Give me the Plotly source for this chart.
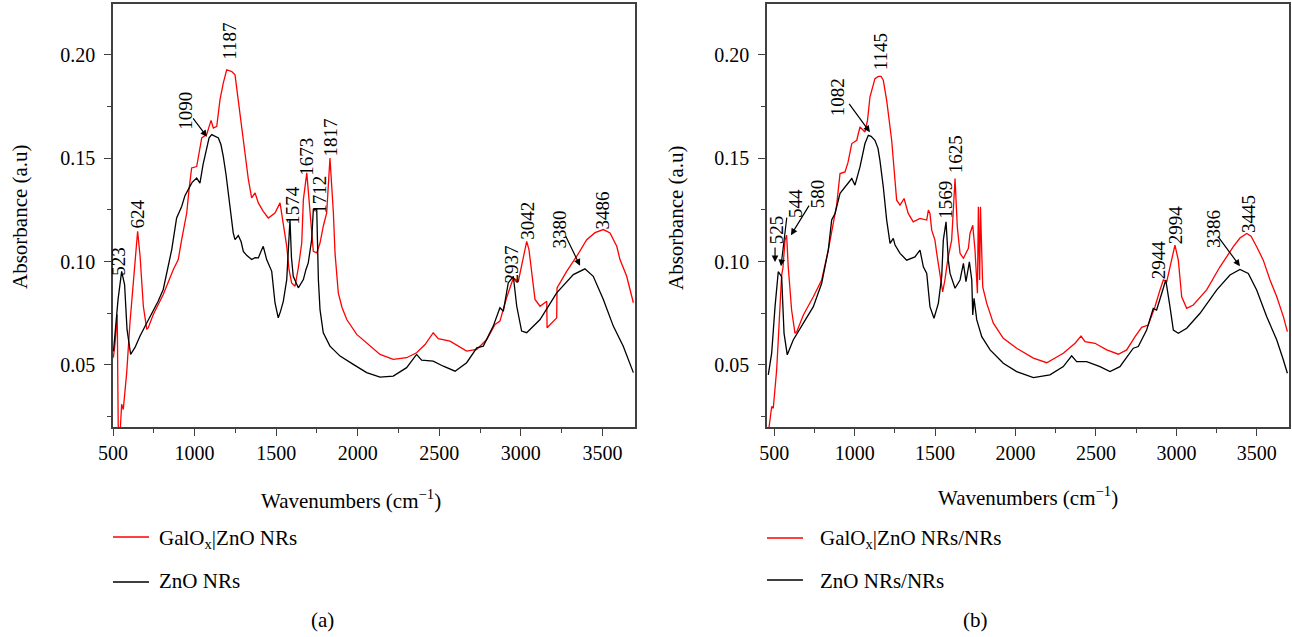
import plotly.graph_objects as go

# ---------------- Panel (a) ----------------
a_galox_x = [502, 512, 526, 532, 540, 553, 563, 584, 604, 624, 645, 651, 666, 686, 707, 716, 747, 808, 870, 900,
             921, 952, 966, 982, 1013, 1027, 1044, 1074, 1101, 1115, 1136, 1156, 1176, 1197, 1228, 1248, 1268, 1299,
             1330, 1350, 1371, 1391, 1421, 1452, 1493, 1524, 1544, 1565, 1579, 1595, 1616, 1636, 1657, 1667, 1688,
             1708, 1728, 1749, 1769, 1789, 1810, 1830, 1851, 1861, 1870, 1881, 1904, 1933, 1994, 2055, 2137, 2218,
             2300, 2361, 2413, 2463, 2494, 2566, 2668, 2730, 2791, 2842, 2872, 2913, 2954, 2985, 3015, 3036, 3050,
             3066, 3087, 3118, 3159, 3161, 3220, 3222, 3281, 3343, 3404, 3455, 3506, 3547, 3588, 3608, 3649, 3690]
a_galox_y = [0.0535, 0.0599, 0.0744, 0.0205, 0.012, 0.0310, 0.0285, 0.0463, 0.0704, 0.0897, 0.1106, 0.1147, 0.1026,
             0.0784, 0.0672, 0.0680, 0.0744, 0.0841, 0.0962, 0.1010, 0.1106, 0.1235, 0.1348, 0.1453, 0.1460, 0.1531,
             0.1598, 0.1614, 0.1683, 0.1646, 0.1654, 0.1783, 0.1863, 0.1928, 0.1919, 0.1903, 0.1783, 0.1590, 0.1396,
             0.1308, 0.1332, 0.1284, 0.1243, 0.1211, 0.1235, 0.1284, 0.1171, 0.1074, 0.0962, 0.0897, 0.0881, 0.0969,
             0.1090, 0.1300, 0.1429, 0.1219, 0.1050, 0.1042, 0.1090, 0.1171, 0.1235, 0.1501, 0.1235, 0.1042, 0.0937,
             0.0849, 0.0778, 0.0720, 0.0648, 0.0607, 0.0551, 0.0527, 0.0535, 0.0559, 0.0599, 0.0656, 0.0627, 0.0615,
             0.0567, 0.0575, 0.0623, 0.0696, 0.0712, 0.0825, 0.0921, 0.0905, 0.1010, 0.1098, 0.1058, 0.0946, 0.0817,
             0.0784, 0.0808, 0.0680, 0.0728, 0.0873, 0.0953, 0.1026, 0.1106, 0.1140, 0.1155, 0.1139, 0.1074, 0.1010,
             0.0929, 0.0801]

a_zno_x = [503, 531, 553, 571, 586, 608, 635, 665, 702, 747, 776, 808, 837, 860, 890, 921, 941, 962, 984, 1013,
           1033, 1052, 1074, 1089, 1105, 1126, 1146, 1162, 1176, 1193, 1207, 1223, 1237, 1248, 1268, 1285, 1299, 1321,
           1350, 1371, 1391, 1407, 1421, 1442, 1456, 1473, 1493, 1513, 1527, 1544, 1565, 1576, 1585, 1594, 1605, 1636,
           1667, 1683, 1697, 1718, 1728, 1749, 1759, 1769, 1789, 1830, 1892, 1973, 2055, 2137, 2218, 2300, 2361, 2392,
           2463, 2525, 2597, 2668, 2730, 2770, 2831, 2872, 2893, 2923, 2954, 2975, 3005, 3036, 3118, 3220, 3322, 3393,
           3444, 3506, 3567, 3628, 3690]
a_zno_y = [0.0566, 0.0817, 0.0953, 0.0889, 0.0672, 0.0551, 0.0585, 0.0639, 0.0696, 0.0760, 0.0807, 0.0865, 0.0971,
           0.1058, 0.1211, 0.1267, 0.1319, 0.1348, 0.1382, 0.1404, 0.1380, 0.1469, 0.1557, 0.1599, 0.1614, 0.1604,
           0.1598, 0.1565, 0.1509, 0.1420, 0.1332, 0.1227, 0.1139, 0.1106, 0.1126, 0.1097, 0.1049, 0.1029, 0.1010,
           0.1019, 0.1018, 0.1049, 0.1074, 0.1010, 0.0981, 0.0953, 0.0801, 0.0728, 0.0759, 0.0808, 0.0913, 0.1058,
           0.1203, 0.1020, 0.0929, 0.0873, 0.0913, 0.0962, 0.0994, 0.1106, 0.1251, 0.1251, 0.0913, 0.0768, 0.0656,
           0.0591, 0.0543, 0.0503, 0.0463, 0.0441, 0.0446, 0.0487, 0.0551, 0.0523, 0.0519, 0.0494, 0.0470, 0.0511,
           0.0583, 0.0591, 0.0688, 0.0777, 0.0760, 0.0897, 0.0929, 0.0784, 0.0664, 0.0656, 0.0720, 0.0849, 0.0937,
           0.0965, 0.0929, 0.0817, 0.0688, 0.0591, 0.0463]

a_labels = ["523", "624", "1090", "1187", "1574", "1673", "1712", "1817", "2937", "3042", "3380", "3486"]
a_label_x = [537, 653, 948, 1217, 1603, 1689, 1769, 1836, 2940, 3044, 3240, 3504]
a_label_y = [0.100, 0.1232, 0.173, 0.2068, 0.1275, 0.1507, 0.1324, 0.160, 0.0986, 0.1198, 0.1155, 0.1247]
# arrows: head x, head y, tail x, tail y
a_arrows = [(1076, 0.1604, 984, 0.170), (3363, 0.098, 3271, 0.113)]

# ---------------- Panel (b) ----------------
b_galox_x = [458, 469, 484, 494, 515, 525, 536, 546, 554, 567, 577, 587, 608, 629, 640, 681, 743, 795, 836, 865,
             888, 909, 940, 959, 982, 1013, 1033, 1064, 1080, 1095, 1126, 1147, 1164, 1178, 1199, 1230, 1261, 1282,
             1307, 1333, 1364, 1406, 1448, 1458, 1468, 1479, 1499, 1510, 1531, 1547, 1561, 1580, 1603, 1624, 1638,
             1655, 1676, 1707, 1717, 1734, 1748, 1763, 1769, 1777, 1782, 1796, 1821, 1862, 1924, 2007, 2111, 2194,
             2297, 2370, 2407, 2432, 2494, 2567, 2639, 2691, 2743, 2784, 2825, 2867, 2898, 2919, 2940, 2960, 2991,
             3012, 3033, 3064, 3105, 3188, 3271, 3354, 3395, 3437, 3464, 3499, 3540, 3582, 3624, 3665, 3690]
b_galox_y = [0.0138, 0.0202, 0.0299, 0.0291, 0.0476, 0.0621, 0.0814, 0.0935, 0.0969, 0.1104, 0.1128, 0.0975, 0.0766,
             0.0653, 0.0661, 0.0742, 0.0830, 0.0911, 0.1056, 0.1176, 0.1273, 0.1426, 0.1434, 0.1481, 0.1571, 0.1587,
             0.1651, 0.1627, 0.1684, 0.1796, 0.1885, 0.1896, 0.1896, 0.1877, 0.1780, 0.1587, 0.1297, 0.1273, 0.1305,
             0.1233, 0.1192, 0.1209, 0.1201, 0.1249, 0.1233, 0.1152, 0.1104, 0.1041, 0.0927, 0.0854, 0.0911, 0.1017,
             0.1104, 0.1402, 0.1168, 0.1040, 0.1016, 0.1064, 0.1136, 0.1176, 0.1056, 0.0847, 0.1265, 0.0911, 0.1265,
             0.0878, 0.0798, 0.0702, 0.0629, 0.0581, 0.0533, 0.0511, 0.0557, 0.0605, 0.0640, 0.0613, 0.0605, 0.0573,
             0.0552, 0.0573, 0.0637, 0.0682, 0.0693, 0.0782, 0.0863, 0.0911, 0.0903, 0.0975, 0.1080, 0.1007, 0.0830,
             0.0774, 0.0790, 0.0863, 0.0975, 0.1072, 0.1114, 0.1136, 0.1123, 0.1072, 0.1007, 0.0911, 0.0830, 0.0734,
             0.0661]

b_zno_x = [463, 484, 505, 525, 546, 561, 581, 618, 681, 743, 795, 836, 857, 878, 909, 950, 982, 1002, 1033, 1064,
           1085, 1102, 1126, 1145, 1157, 1178, 1199, 1220, 1240, 1251, 1282, 1323, 1375, 1406, 1427, 1448, 1468, 1493,
           1520, 1541, 1551, 1568, 1582, 1593, 1624, 1655, 1676, 1692, 1713, 1728, 1734, 1742, 1759, 1790, 1842, 1924,
           2007, 2111, 2214, 2297, 2349, 2380, 2442, 2525, 2587, 2649, 2701, 2732, 2763, 2815, 2856, 2877, 2909, 2934,
           2960, 2981, 3012, 3064, 3147, 3251, 3333, 3395, 3447, 3499, 3561, 3624, 3665, 3690]
b_zno_y = [0.0452, 0.0557, 0.0782, 0.0951, 0.0927, 0.0653, 0.0549, 0.0621, 0.0702, 0.0782, 0.0895, 0.1056, 0.1201,
           0.1233, 0.1330, 0.1370, 0.1402, 0.1370, 0.1458, 0.1571, 0.1611, 0.1606, 0.1587, 0.1548, 0.1490, 0.1361,
           0.1201, 0.1088, 0.1112, 0.1080, 0.1040, 0.1007, 0.1023, 0.1056, 0.0975, 0.0943, 0.0782, 0.0726, 0.0798,
           0.0927, 0.1104, 0.1192, 0.1007, 0.0943, 0.0871, 0.0911, 0.0991, 0.0903, 0.0999, 0.0911, 0.0742, 0.0822,
           0.0718, 0.0637, 0.0573, 0.0508, 0.0468, 0.0439, 0.0452, 0.0492, 0.0544, 0.0516, 0.0516, 0.0492, 0.0468,
           0.0492, 0.0549, 0.0581, 0.0589, 0.0669, 0.0774, 0.0766, 0.0847, 0.0911, 0.0782, 0.0669, 0.0653, 0.0678,
           0.0750, 0.0863, 0.0935, 0.0962, 0.0943, 0.0863, 0.0734, 0.0621, 0.0524, 0.0460]

b_labels = ["525", "544", "580", "1082", "1145", "1569", "1625", "2944", "2994", "3386", "3445"]
b_label_x = [511, 629, 766, 890, 1157, 1562, 1624, 2886, 2991, 3227, 3445]
b_label_y = [0.1152, 0.1283, 0.1326, 0.1795, 0.2017, 0.130, 0.152, 0.1007, 0.1181, 0.1157, 0.123]
b_arrows = [(505, 0.0998, 505, 0.1075), (542, 0.0978, 579, 0.122), (604, 0.1128, 722, 0.1278),
            (1095, 0.1626, 959, 0.177), (3395, 0.0978, 3252, 0.1128)]

legend_a = ["GalO<sub>x</sub>|ZnO NRs", "ZnO NRs"]
legend_b = ["GalO<sub>x</sub>|ZnO NRs/NRs", "ZnO NRs/NRs"]

RED = "#ff0000"
BLACK = "#000000"
FONT = "Liberation Serif"
FS_PEAK = 19
FS_TICK = 20
FS_TEXT = 21

W, H = 1292, 637
def px(x):
    return x / W
def py(y):
    return 1 - y / H

fig = go.Figure()
fig.add_trace(go.Scatter(x=a_galox_x, y=a_galox_y, mode="lines", line=dict(color=RED, width=1.3),
                         xaxis="x", yaxis="y", showlegend=False))
fig.add_trace(go.Scatter(x=a_zno_x, y=a_zno_y, mode="lines", line=dict(color=BLACK, width=1.3),
                         xaxis="x", yaxis="y", showlegend=False))
fig.add_trace(go.Scatter(x=b_galox_x, y=b_galox_y, mode="lines", line=dict(color=RED, width=1.3),
                         xaxis="x2", yaxis="y2", showlegend=False))
fig.add_trace(go.Scatter(x=b_zno_x, y=b_zno_y, mode="lines", line=dict(color=BLACK, width=1.3),
                         xaxis="x2", yaxis="y2", showlegend=False))

peak_font = dict(size=FS_PEAK, color="black", family=FONT)
ann = []
for lab, x, y in zip(a_labels, a_label_x, a_label_y):
    ann.append(dict(text=lab, x=x, y=y, xref="x", yref="y", showarrow=False, textangle=-90,
                    xanchor="center", yanchor="middle", font=peak_font))
for lab, x, y in zip(b_labels, b_label_x, b_label_y):
    ann.append(dict(text=lab, x=x, y=y, xref="x2", yref="y2", showarrow=False, textangle=-90,
                    xanchor="center", yanchor="middle", font=peak_font))
for hx, hy, tx, ty in a_arrows:
    ann.append(dict(text="", x=hx, y=hy, ax=tx, ay=ty, xref="x", yref="y", axref="x", ayref="y",
                    showarrow=True, arrowhead=2, arrowsize=1.1, arrowwidth=1.2, arrowcolor="black", standoff=0))
for hx, hy, tx, ty in b_arrows:
    ann.append(dict(text="", x=hx, y=hy, ax=tx, ay=ty, xref="x2", yref="y2", axref="x2", ayref="y2",
                    showarrow=True, arrowhead=2, arrowsize=1.1, arrowwidth=1.2, arrowcolor="black", standoff=0))

# axis titles
title_font = dict(size=FS_TEXT, color="black", family=FONT)
ann.append(dict(text="Wavenumbers (cm<sup>−1</sup>)", x=px(351), y=py(499), xref="paper", yref="paper",
                showarrow=False, xanchor="center", yanchor="middle", font=title_font))
ann.append(dict(text="Wavenumbers (cm<sup>−1</sup>)", x=px(1028), y=py(496), xref="paper", yref="paper",
                showarrow=False, xanchor="center", yanchor="middle", font=title_font))
ann.append(dict(text="Absorbance (a.u)", x=px(20), y=py(217), xref="paper", yref="paper", textangle=-90,
                showarrow=False, xanchor="center", yanchor="middle", font=title_font))
ann.append(dict(text="Absorbance (a.u)", x=px(676), y=py(218), xref="paper", yref="paper", textangle=-90,
                showarrow=False, xanchor="center", yanchor="middle", font=title_font))
# legends
ann.append(dict(text=legend_a[0], x=px(157), y=py(539), xref="paper", yref="paper", showarrow=False,
                xanchor="left", yanchor="middle", font=title_font))
ann.append(dict(text=legend_a[1], x=px(157), y=py(581), xref="paper", yref="paper", showarrow=False,
                xanchor="left", yanchor="middle", font=title_font))
ann.append(dict(text=legend_b[0], x=px(818), y=py(539), xref="paper", yref="paper", showarrow=False,
                xanchor="left", yanchor="middle", font=title_font))
ann.append(dict(text=legend_b[1], x=px(818), y=py(581), xref="paper", yref="paper", showarrow=False,
                xanchor="left", yanchor="middle", font=title_font))
ann.append(dict(text="(a)", x=px(322), y=py(620), xref="paper", yref="paper", showarrow=False,
                xanchor="center", yanchor="middle", font=title_font))
ann.append(dict(text="(b)", x=px(975), y=py(620), xref="paper", yref="paper", showarrow=False,
                xanchor="center", yanchor="middle", font=title_font))

shapes = [
    dict(type="line", xref="paper", yref="paper", x0=px(113), x1=px(149), y0=py(537), y1=py(537),
         line=dict(color=RED, width=1.3)),
    dict(type="line", xref="paper", yref="paper", x0=px(113), x1=px(149), y0=py(582), y1=py(582),
         line=dict(color=BLACK, width=1.3)),
    dict(type="line", xref="paper", yref="paper", x0=px(767), x1=px(803), y0=py(538), y1=py(538),
         line=dict(color=RED, width=1.3)),
    dict(type="line", xref="paper", yref="paper", x0=px(767), x1=px(803), y0=py(580), y1=py(580),
         line=dict(color=BLACK, width=1.3)),
]

tickfont = dict(size=FS_TICK, color="black", family=FONT)
def xax(domain, rng, anchor):
    return dict(domain=domain, range=rng, anchor=anchor, showgrid=False, zeroline=False, automargin=False,
                showline=True, mirror=True, linecolor="#404040", linewidth=1.5,
                ticks="outside", ticklen=7, tickwidth=1.3, tickcolor="#404040",
                tick0=0, dtick=500, tickfont=tickfont,
                minor=dict(ticks="outside", ticklen=4, dtick=250, tick0=0, tickcolor="#404040", tickwidth=1.2))
def yax(domain, anchor):
    return dict(domain=domain, range=[0.02, 0.2246], anchor=anchor, showgrid=False, zeroline=False,
                automargin=False, ticklabelstandoff=5,
                showline=True, mirror=True, linecolor="#404040", linewidth=1.5,
                ticks="outside", ticklen=7, tickwidth=1.3, tickcolor="#404040",
                tick0=0, dtick=0.05, tickformat=".2f", tickfont=tickfont,
                minor=dict(ticks="outside", ticklen=4, dtick=0.025, tick0=0, tickcolor="#404040", tickwidth=1.2))

ydom = [py(427), py(4)]
fig.update_layout(
    width=W, height=H, autosize=False,
    margin=dict(l=0, r=0, t=0, b=0, pad=0),
    paper_bgcolor="white", plot_bgcolor="white",
    font=dict(family=FONT, color="black", size=FS_TICK),
    xaxis=xax([px(113), px(635)], [500, 3700], "y"),
    yaxis=yax(ydom, "x"),
    xaxis2=xax([px(767), px(1289)], [455, 3700], "y2"),
    yaxis2=yax(ydom, "x2"),
    annotations=ann,
    shapes=shapes,
    showlegend=False,
)

fig.write_html("out.html", config={"displayModeBar": False},
               post_script="document.body.style.margin='0';")
